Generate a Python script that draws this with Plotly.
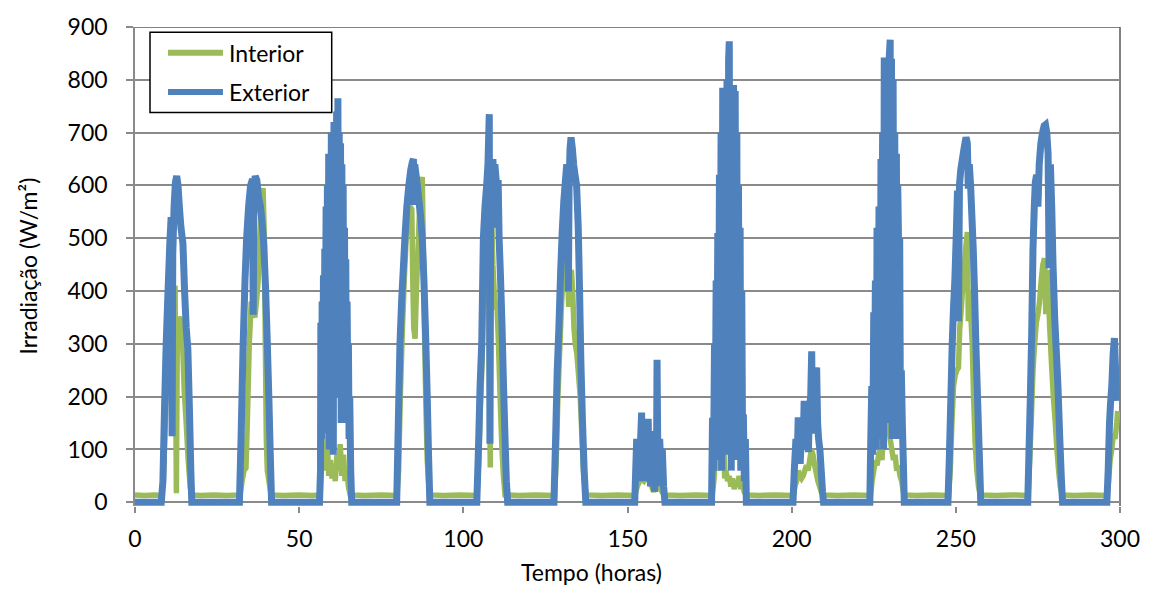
import plotly.graph_objects as go

# ---------------- data ----------------
# Exterior irradiance (W/m2) vs time (hours)
ext_hours = [
    0, 8.0, 8.5, 9.0, 9.5, 10.0, 10.6, 11.0, 11.3, 11.5, 11.9, 12.3, 12.7, 13.1, 13.5, 14.0, 14.6, 15.1, 15.6, 16.1, 16.6, 17.0, 17.3,
    31.8, 32.3, 32.9, 33.5, 34.0, 34.6, 35.2, 35.8, 36.0, 36.2, 36.6, 37.1, 37.6, 38.2, 38.7, 39.2, 39.8, 40.3, 40.8, 41.2, 41.6,
    56.2, 56.5, 56.6, 56.8, 57.0, 57.2, 57.4, 57.6, 57.8, 58.0, 58.2, 58.4, 58.6, 58.8, 59.0, 59.2, 59.4, 59.6, 59.8, 60.0,
    60.2, 60.4, 60.6, 60.8, 61.0, 61.2, 61.4, 61.6, 61.8, 62.0, 62.2, 62.4, 62.6, 62.8, 63.0, 63.2, 63.4, 63.6, 63.8, 64.0,
    64.2, 64.4, 64.6, 64.8, 65.0, 65.2, 65.4, 65.7, 66.0,
    79.7, 80.2, 80.7, 81.2, 81.7, 82.2, 82.8, 83.4, 84.0, 84.5, 84.8, 85.0, 85.2, 85.6, 86.0, 86.5, 87.0, 87.5, 88.0, 88.5, 89.0, 89.4, 89.8,
    104.1, 104.6, 105.1, 105.6, 106.1, 106.6, 107.1, 107.5, 107.9, 108.1, 108.3, 108.6, 109.0, 109.3, 109.6, 110.0, 110.3, 110.6, 110.9, 111.3, 111.8, 112.2, 112.7, 113.1, 113.5,
    127.6, 128.1, 128.6, 129.1, 129.6, 130.1, 130.6, 131.1, 131.5, 131.8, 132.0, 132.2, 132.5, 132.8, 133.2, 133.6, 134.0, 134.5, 135.0, 135.4, 135.8, 136.3, 136.8, 137.3,
    152.2, 152.5, 152.8, 153.1, 153.4, 153.7, 154.0, 154.3, 154.5, 154.8, 155.1, 155.4, 155.7, 156.0, 156.3, 156.5,
    156.8, 157.0, 157.3, 157.6, 157.9, 158.2, 158.5, 158.8, 159.0, 159.2, 159.5, 159.8, 160.2, 160.6, 161.0, 161.4,
    175.6, 175.9, 176.2, 176.5, 176.7, 177.0, 177.2, 177.5, 177.7, 178.0, 178.2, 178.5, 178.7, 179.0, 179.2, 179.4, 179.6, 179.8, 180.0, 180.3, 180.5, 180.8,
    181.0, 181.2, 181.4, 181.6, 181.8, 182.0, 182.3, 182.5, 182.8, 183.0, 183.3, 183.5, 183.8, 184.0, 184.3, 184.5, 184.8, 185.0, 185.3, 185.6, 185.9, 186.2,
    200.4, 200.8, 201.3, 201.7, 202.0, 202.3, 202.6, 202.9, 203.2, 203.5, 203.8, 204.1, 204.4, 204.8, 205.1,
    205.4, 205.8, 206.1, 206.3, 206.6, 206.9, 207.2, 207.6, 207.9, 208.2, 208.6, 209.0, 209.4, 209.7,
    223.8, 224.1, 224.4, 224.7, 225.0, 225.2, 225.5, 225.8, 226.0, 226.3, 226.6, 226.9, 227.2, 227.4, 227.7, 228.0, 228.2, 228.4, 228.7, 228.9, 229.2,
    229.4, 229.7, 230.0, 230.2, 230.4, 230.6, 230.9, 231.1, 231.4, 231.6, 231.9, 232.1, 232.3, 232.5, 232.7, 232.9, 233.1, 233.4, 233.7, 234.0, 234.3,
    247.6, 248.0, 248.5, 248.9, 249.3, 249.7, 250.1, 250.5, 250.8, 251.1, 251.5, 252.0, 252.5, 253.1, 253.5, 253.8, 254.1, 254.5, 254.9, 255.3, 255.7, 256.1, 256.6, 257.1, 257.6,
    271.9, 272.3, 272.7, 273.1, 273.5, 273.9, 274.2, 274.6, 275.0, 275.4, 275.9, 276.4, 276.9, 277.3, 277.7, 278.1, 278.4, 278.8, 279.2, 279.6, 280.1, 280.6, 281.1, 281.6, 282.1, 282.5,
    296.0, 296.4, 296.8, 297.1, 297.5, 297.9, 298.3, 298.6, 298.9,
]
ext_irr = [
    0, 0, 40, 180, 300, 390, 490, 540, 125, 470, 560, 605, 618, 600, 560, 520, 490, 400, 330, 290, 170, 60, 0,
    0, 120, 290, 420, 500, 560, 600, 612, 355, 560, 618, 610, 580, 560, 530, 490, 400, 300, 190, 90, 0,
    0, 60, 340, 120, 380, 200, 430, 150, 480, 250, 560, 130, 600, 300, 660, 100, 620, 250, 700, 180,
    650, 90, 720, 300, 690, 200, 740, 350, 765, 250, 700, 400, 680, 150, 640, 380, 600, 200, 520, 300,
    460, 150, 380, 220, 300, 120, 200, 60, 0,
    0, 150, 300, 380, 440, 500, 560, 600, 630, 645, 650, 563, 640, 620, 600, 570, 540, 500, 420, 320, 200, 90, 0,
    0, 100, 220, 300, 500, 560, 600, 640, 735, 111, 520, 620, 650, 600, 640, 610, 520, 610, 500, 430, 330, 230, 120, 40, 0,
    0, 120, 250, 330, 430, 510, 570, 610, 640, 560, 399, 600, 670, 691, 670, 640, 620, 600, 520, 400, 265, 150, 60, 0,
    0, 60, 120, 60, 110, 40, 120, 170, 60, 130, 50, 110, 40, 140, 158, 70,
    135, 30, 120, 40, 100, 20, 60, 30, 270, 110, 40, 120, 60, 100, 30, 0,
    0, 160, 60, 300, 100, 420, 150, 510, 80, 620, 200, 700, 60, 785, 300, 700, 120, 760, 250, 800, 90, 840,
    873, 200, 780, 60, 760, 350, 790, 100, 779, 250, 700, 80, 600, 200, 520, 60, 400, 160, 160, 40, 120, 0,
    0, 60, 120, 90, 161, 140, 73, 120, 150, 100, 192, 170, 110, 150, 95,
    180, 200, 286, 160, 220, 130, 240, 255, 150, 120, 100, 60, 20, 0,
    0, 120, 220, 90, 360, 150, 420, 100, 520, 200, 560, 120, 650, 250, 700, 100, 842, 300, 780, 150, 820,
    400, 840, 876, 200, 840, 120, 800, 300, 700, 150, 660, 250, 600, 515, 120, 500, 200, 250, 150, 80, 0,
    0, 80, 200, 300, 370, 420, 500, 590, 343, 600, 630, 650, 670, 691, 680, 594, 640, 600, 540, 480, 400, 300, 200, 100, 0,
    0, 100, 200, 318, 480, 560, 606, 620, 560, 640, 680, 700, 713, 715, 700, 660, 443, 640, 560, 450, 350, 286, 220, 130, 50, 0,
    0, 60, 150, 186, 220, 280, 311, 260, 192,
]

# Interior irradiance (W/m2) vs time (hours)
int_hours = [
    0, 3.0, 6.0, 8.2,
    8.6, 9.2, 9.8, 10.4, 11.0, 11.4, 11.7, 12.2, 12.6, 12.9, 13.4, 14.0, 14.5, 15.0, 15.6, 16.2, 16.8, 17.2,
    20.0, 24.0, 28.0, 32.0,
    32.6, 33.2, 33.8, 34.2, 34.8, 35.4, 36.0, 36.5, 37.0, 37.5, 38.0, 38.5, 39.0, 39.4, 39.7, 40.0, 40.3, 40.8, 41.3, 41.8,
    45.0, 50.0, 54.0, 56.4,
    56.7, 57.0, 57.5, 58.0, 58.5, 59.0, 59.5, 60.0, 60.5, 61.0, 61.5, 62.0, 62.5, 63.0, 63.5, 64.0, 64.5, 65.0, 65.5, 66.0,
    70.0, 75.0, 79.8,
    80.3, 80.8, 81.4, 82.0, 82.6, 83.2, 83.8, 84.3, 84.6, 84.9, 85.3, 85.7, 86.2, 86.7, 87.2, 87.5, 87.8, 88.2, 88.6, 89.0, 89.4, 89.9,
    94.0, 99.0, 104.2,
    104.7, 105.2, 105.7, 106.2, 106.7, 107.2, 107.6, 107.9, 108.2, 108.4, 108.7, 109.0, 109.4, 109.8, 110.3, 110.7, 111.2, 111.7, 112.2, 112.7,
    117.0, 122.0, 127.8,
    128.3, 128.8, 129.3, 129.8, 130.3, 130.8, 131.3, 131.7, 132.1, 132.5, 132.9, 133.3, 133.7, 134.1, 134.6, 135.1, 135.6, 136.1, 136.6, 137.1, 137.6,
    142.0, 147.0, 152.2,
    153.0, 154.0, 155.0, 156.0, 157.0, 158.0, 159.0, 160.0, 161.0, 161.6,
    166.0, 171.0, 175.8,
    176.3, 176.8, 177.3, 177.8, 178.3, 178.8, 179.2, 179.6, 180.0, 180.5, 181.0, 181.5, 182.0, 182.5, 183.0, 183.5, 184.0, 184.5, 185.0, 185.5, 186.0,
    190.0, 195.0, 200.5,
    201.0, 201.5, 202.0, 202.5, 203.0, 203.5, 204.0, 204.5, 205.0, 205.5, 206.0, 206.5, 207.0, 207.5, 208.0, 208.5, 209.0, 209.6,
    214.0, 219.0, 224.0,
    224.5, 225.0, 225.5, 226.0, 226.5, 227.0, 227.5, 228.0, 228.5, 229.0, 229.5, 230.0, 230.5, 231.0, 231.5, 232.0, 232.5, 233.0, 233.5, 234.0, 234.5,
    238.0, 243.0, 247.8,
    248.3, 248.8, 249.3, 249.8, 250.3, 250.8, 251.2, 251.6, 252.0, 252.5, 253.0, 253.5, 253.8, 254.2, 254.6, 255.0, 255.4, 255.9, 256.4, 256.9, 257.4,
    262.0, 267.0, 272.0,
    272.5, 273.0, 273.5, 274.0, 274.5, 275.0, 275.5, 276.0, 276.5, 277.0, 277.4, 277.8, 278.2, 278.6, 279.2, 279.7, 280.3, 280.8, 281.3, 281.8, 282.3,
    286.0, 291.0, 296.0,
    296.5, 297.0, 297.5, 298.0, 298.5, 299.0, 299.3,
]
int_irr = [
    14, 13, 14, 13,
    40, 150, 260, 350, 420, 130, 400, 410, 17, 340, 350, 345, 300, 210, 150, 80, 30, 14,
    13, 14, 13, 14,
    40, 60, 65, 150, 300, 380, 360, 350, 380, 420, 500, 560, 595, 500, 300, 120, 60, 40, 20, 14,
    13, 14, 13, 14,
    90, 100, 130, 60, 120, 50, 80, 45, 70, 40, 90, 60, 110, 50, 90, 40, 60, 30, 15, 14,
    13, 14, 13,
    60, 200, 320, 420, 500, 540, 560, 555, 420, 330, 310, 400, 480, 560, 605, 616, 480, 320, 180, 80, 40, 14,
    13, 14, 13,
    80, 180, 260, 400, 470, 500, 510, 300, 66, 500, 525, 450, 400, 370, 365, 300, 200, 110, 50, 14,
    13, 14, 13,
    80, 200, 280, 360, 420, 450, 460, 440, 370, 430, 440, 400, 330, 300, 280, 240, 200, 130, 60, 25, 14,
    13, 14, 13,
    30, 45, 40, 50, 35, 20, 45, 25, 15, 14,
    13, 14, 13,
    40, 80, 100, 60, 120, 155, 150, 45, 60, 40, 50, 30, 45, 25, 40, 30, 50, 25, 40, 20, 14,
    13, 14, 13,
    30, 40, 60, 50, 45, 50, 60, 70, 60, 80, 100, 90, 70, 55, 40, 30, 20, 14,
    13, 14, 13,
    40, 60, 80, 70, 90, 100, 80, 140, 158, 150, 155, 120, 100, 80, 90, 60, 70, 50, 40, 20, 14,
    13, 14, 13,
    60, 150, 220, 240, 250, 255, 330, 360, 400, 440, 480, 512, 343, 400, 350, 300, 200, 111, 60, 30, 14,
    13, 14, 13,
    80, 160, 250, 300, 340, 356, 380, 420, 450, 462, 356, 440, 400, 330, 255, 200, 150, 100, 60, 30, 14,
    13, 14, 13,
    40, 80, 100, 130, 120, 150, 173,
]

series_names = ["Interior", "Exterior"]
x_ticks = [0, 50, 100, 150, 200, 250, 300]
y_ticks = [0, 100, 200, 300, 400, 500, 600, 700, 800, 900]
x_title = "Tempo (horas)"
y_title = "Irradiação (W/m²)"

assert len(ext_hours) == len(ext_irr)
assert len(int_hours) == len(int_irr)

# ---------------- styling ----------------
GREEN = "#9BBB59"
BLUE = "#4F81BD"
GRID = "#8A8A8A"
BORDER = "#595959"
FONT = "Lato, Carlito, Calibri, sans-serif"
FS = 23

fig = go.Figure()
fig.add_trace(go.Scatter(x=int_hours, y=int_irr, mode="lines", name=series_names[0],
                         line=dict(color=GREEN, width=5.5, simplify=False), showlegend=False))
fig.add_trace(go.Scatter(x=ext_hours, y=ext_irr, mode="lines", name=series_names[1],
                         line=dict(color=BLUE, width=7, simplify=False), showlegend=False))

fig.update_layout(
    width=1152, height=592,
    margin=dict(l=135, r=32, t=24, b=86),
    paper_bgcolor="white", plot_bgcolor="white",
    font=dict(family=FONT, size=FS, color="black"),
    xaxis=dict(range=[0, 300], tickvals=x_ticks, showgrid=False, zeroline=False,
               showline=False, ticks="outside", ticklen=6, tickcolor=GRID, tickwidth=1.5,
               ticklabelstandoff=6, tickfont=dict(size=FS)),
    yaxis=dict(range=[-7, 900], tickvals=y_ticks, showgrid=True, gridcolor=GRID, gridwidth=1.5,
               zeroline=True, zerolinecolor=GRID, zerolinewidth=1.5,
               showline=True, linecolor=GRID, linewidth=1.5,
               ticks="outside", ticklen=7, tickcolor=GRID, tickwidth=1.5,
               ticklabelstandoff=14, tickfont=dict(size=FS)),
)

# plot-area border (top and right)
fig.add_shape(type="line", xref="paper", yref="y", x0=0, x1=1, y0=900, y1=900,
              line=dict(color=BORDER, width=1.5), layer="below")
fig.add_shape(type="line", xref="paper", yref="y", x0=1, x1=1, y0=-7, y1=900,
              line=dict(color=BORDER, width=1.5), layer="below")

# axis titles
fig.add_annotation(text=x_title, xref="paper", yref="paper", x=0.4637, y=-0.138,
                   xanchor="center", yanchor="middle", showarrow=False, font=dict(size=FS))
fig.add_annotation(text=y_title, xref="paper", yref="paper", x=-0.1096, y=0.5,
                   xanchor="center", yanchor="middle", textangle=-90, showarrow=False, font=dict(size=FS))

# legend box drawn like the original
fig.add_shape(type="rect", xref="paper", yref="paper", x0=0.01523, x1=0.1997, y0=0.8215, y1=0.989,
              line=dict(color="black", width=1.5), fillcolor="white", layer="above")
leg_y = [0.946, 0.8644]
leg_col = [GREEN, BLUE]
for i, name in enumerate(series_names):
    fig.add_shape(type="line", xref="paper", yref="paper", x0=0.0335, x1=0.0893, y0=leg_y[i], y1=leg_y[i],
                  line=dict(color=leg_col[i], width=6), layer="above")
    fig.add_annotation(text=name, xref="paper", yref="paper", x=0.0934, y=leg_y[i],
                       xanchor="left", yanchor="middle", showarrow=False, font=dict(size=FS))

fig.write_html("out.html")
